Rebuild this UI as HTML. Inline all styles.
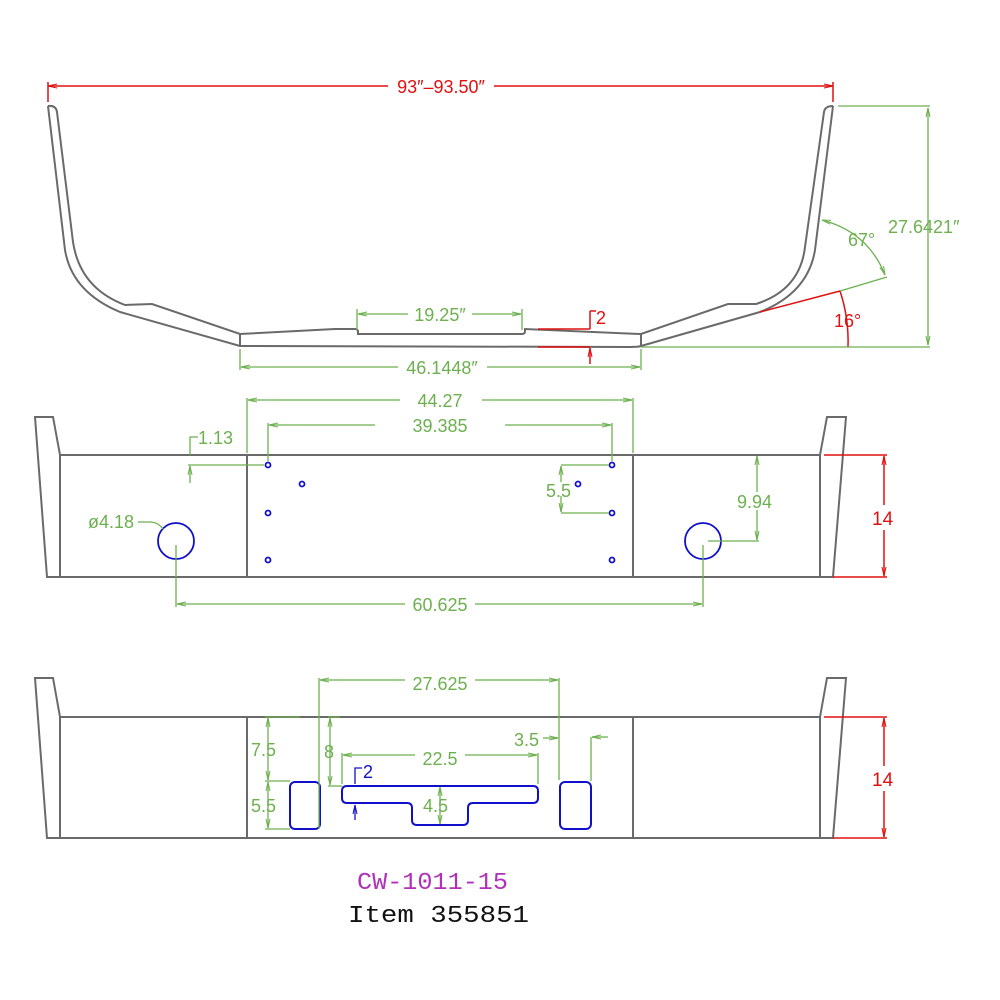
<!DOCTYPE html>
<html><head><meta charset="utf-8"><style>
html,body{margin:0;padding:0;background:#fff;}
svg{display:block;}
text{font-family:"Liberation Sans",sans-serif;}
</style></head><body>
<svg width="1000" height="1000" viewBox="0 0 1000 1000" xmlns="http://www.w3.org/2000/svg">
<defs>
<marker id="ag" markerWidth="10" markerHeight="6" refX="9" refY="3" orient="auto-start-reverse" markerUnits="userSpaceOnUse"><path d="M0,1 L9,3 L0,5" fill="none" stroke="#6db04f" stroke-width="1"/></marker>
<marker id="ar" markerWidth="10" markerHeight="6" refX="9" refY="3" orient="auto-start-reverse" markerUnits="userSpaceOnUse"><path d="M0,1 L9,3 L0,5" fill="none" stroke="#e01010" stroke-width="1"/></marker>
<marker id="ab" markerWidth="10" markerHeight="6" refX="9" refY="3" orient="auto-start-reverse" markerUnits="userSpaceOnUse"><path d="M0,1 L9,3 L0,5" fill="none" stroke="#1010cc" stroke-width="1"/></marker>
</defs>

<!-- TOP VIEW -->
<g fill="none" stroke="#6a6a6a" stroke-width="2">
<path d="M48,106 L65,250 Q72,292 120,312 L240,346 L630,347 Q638,347 641,346 L760,312 Q808,293 815,250 L833,106"/>
<path d="M48,106 Q56,105 57,112 L73,242 Q80,288 125,305 L152,304 L240,334 L335,329 L355,329 Q358,329 358,332 L358,334 L522,334 Q525,334 525,331 L525,329 L640,334 L641,334 L728,304 L756,304 Q800,290 805,247 L824,112 Q825,106 833,106"/>
<line x1="240" y1="334" x2="240" y2="347"/>
<line x1="641" y1="334" x2="641" y2="347"/>
</g>
<g stroke="#e01010" stroke-width="1.5" fill="none">
<line x1="48" y1="82" x2="48" y2="102"/>
<line x1="833" y1="82" x2="833" y2="102"/>
<line x1="48" y1="86" x2="388" y2="86" marker-start="url(#ar)"/>
<line x1="494" y1="86" x2="833" y2="86" marker-end="url(#ar)"/>
<line x1="538" y1="329" x2="590" y2="329"/>
<line x1="590" y1="329" x2="590" y2="311"/>
<line x1="590" y1="311" x2="596" y2="311"/>
<line x1="538" y1="347" x2="590" y2="347"/>
<line x1="590" y1="364" x2="590" y2="348" marker-end="url(#ar)"/>
<line x1="760" y1="312" x2="840" y2="291"/>
<path d="M840,291 Q849,318 848,347"/>
</g>
<text x="441" y="93" fill="#e01010" font-size="18" text-anchor="middle">93″–93.50″</text>
<text x="596" y="324" fill="#e01010" font-size="18">2</text>
<text x="834" y="327" fill="#e01010" font-size="18">16°</text>
<g stroke="#6db04f" stroke-width="1.3" fill="none">
<line x1="840" y1="291" x2="887" y2="277"/>
<path d="M822,220 Q868,232 885,275" marker-start="url(#ag)" marker-end="url(#ag)"/>
<line x1="838" y1="106" x2="930" y2="106"/>
<line x1="641" y1="347" x2="930" y2="347"/>
<line x1="928" y1="108" x2="928" y2="345" marker-start="url(#ag)" marker-end="url(#ag)"/>
<line x1="357" y1="309" x2="357" y2="330"/>
<line x1="522" y1="309" x2="522" y2="330"/>
<line x1="358" y1="314" x2="408" y2="314" marker-start="url(#ag)"/>
<line x1="472" y1="314" x2="521" y2="314" marker-end="url(#ag)"/>
<line x1="240" y1="349" x2="240" y2="370"/>
<line x1="641" y1="349" x2="641" y2="370"/>
<line x1="241" y1="367" x2="398" y2="367" marker-start="url(#ag)"/>
<line x1="487" y1="367" x2="640" y2="367" marker-end="url(#ag)"/>
</g>
<g fill="#6db04f" font-size="18">
<text x="440" y="321" text-anchor="middle">19.25″</text>
<text x="442" y="374" text-anchor="middle">46.1448″</text>
<text x="848" y="246">67°</text>
<text x="888" y="233">27.6421″</text>
</g>

<!-- MIDDLE VIEW -->
<g fill="none" stroke="#6a6a6a" stroke-width="2">
<polygon points="35,417 53,417 60,455 60,577 47,577"/>
<rect x="60" y="455" width="760" height="122"/>
<line x1="247" y1="455" x2="247" y2="577"/>
<line x1="633" y1="455" x2="633" y2="577"/>
<polygon points="820,455 827,417 846,417 833,577 820,577"/>
</g>
<g fill="none" stroke="#1010cc" stroke-width="1.8">
<circle cx="268" cy="465" r="2.5"/><circle cx="268" cy="513" r="2.5"/><circle cx="268" cy="560" r="2.5"/><circle cx="302" cy="484" r="2.5"/>
<circle cx="612" cy="465" r="2.5"/><circle cx="612" cy="513" r="2.5"/><circle cx="612" cy="560" r="2.5"/><circle cx="578" cy="484" r="2.5"/>
<circle cx="176" cy="541" r="18"/><circle cx="703" cy="541" r="18"/>
</g>
<g stroke="#6db04f" stroke-width="1.3" fill="none">
<line x1="247" y1="398" x2="247" y2="453"/>
<line x1="633" y1="398" x2="633" y2="453"/>
<line x1="248" y1="400" x2="400" y2="400" marker-start="url(#ag)"/>
<line x1="482" y1="400" x2="632" y2="400" marker-end="url(#ag)"/>
<line x1="268" y1="423" x2="268" y2="461"/>
<line x1="612" y1="423" x2="612" y2="461"/>
<line x1="269" y1="425" x2="375" y2="425" marker-start="url(#ag)"/>
<line x1="505" y1="425" x2="611" y2="425" marker-end="url(#ag)"/>
<line x1="188" y1="465" x2="264" y2="465"/>
<path d="M198,437 L190,437 L190,455"/>
<line x1="190" y1="483" x2="190" y2="466" marker-end="url(#ag)"/>
<path d="M138,522 L150,522 Q158,522 163,529"/>
<line x1="176" y1="545" x2="176" y2="607"/>
<line x1="703" y1="545" x2="703" y2="607"/>
<line x1="177" y1="604" x2="405" y2="604" marker-start="url(#ag)"/>
<line x1="475" y1="604" x2="702" y2="604" marker-end="url(#ag)"/>
<line x1="561" y1="465" x2="609" y2="465"/>
<line x1="561" y1="513" x2="609" y2="513"/>
<line x1="561" y1="466" x2="561" y2="482" marker-start="url(#ag)"/>
<line x1="561" y1="496" x2="561" y2="512" marker-end="url(#ag)"/>
<line x1="708" y1="541" x2="759" y2="541"/>
<line x1="757" y1="456" x2="757" y2="492" marker-start="url(#ag)"/>
<line x1="757" y1="510" x2="757" y2="540" marker-end="url(#ag)"/>
</g>
<g fill="#6db04f" font-size="18">
<text x="440" y="407" text-anchor="middle">44.27</text>
<text x="440" y="432" text-anchor="middle">39.385</text>
<text x="198" y="444">1.13</text>
<text x="88" y="528">ø4.18</text>
<text x="440" y="611" text-anchor="middle">60.625</text>
<text x="546" y="497">5.5</text>
<text x="737" y="508">9.94</text>
</g>
<g stroke="#e01010" stroke-width="1.5" fill="none">
<line x1="824" y1="455" x2="887" y2="455"/>
<line x1="833" y1="577" x2="887" y2="577"/>
<line x1="884" y1="456" x2="884" y2="505" marker-start="url(#ar)"/>
<line x1="884" y1="530" x2="884" y2="576" marker-end="url(#ar)"/>
</g>
<text x="872" y="525" fill="#e01010" font-size="19">14</text>

<!-- BOTTOM VIEW -->
<g fill="none" stroke="#6a6a6a" stroke-width="2">
<polygon points="35,678 53,678 60,717 60,838 47,838"/>
<rect x="60" y="717" width="760" height="121"/>
<line x1="247" y1="717" x2="247" y2="838"/>
<line x1="633" y1="717" x2="633" y2="838"/>
<polygon points="820,717 827,678 846,678 833,838 820,838"/>
</g>
<g fill="none" stroke="#1010cc" stroke-width="2">
<rect x="290" y="782" width="30" height="47" rx="5"/>
<rect x="560" y="782" width="31" height="47" rx="5"/>
<path d="M347,786 L533,786 Q538,786 538,791 L538,798 Q538,803 533,803 L473,803 Q468,803 468,808 L468,820 Q468,825 463,825 L417,825 Q412,825 412,820 L412,808 Q412,803 407,803 L347,803 Q342,803 342,798 L342,791 Q342,786 347,786 Z"/>
</g>
<g stroke="#1010cc" stroke-width="1.3" fill="none">
<path d="M362,768 L355,768 L355,784"/>
<line x1="355" y1="820" x2="355" y2="805" marker-end="url(#ab)"/>
</g>
<text x="363" y="778" fill="#1010cc" font-size="18">2</text>
<g stroke="#6db04f" stroke-width="1.3" fill="none">
<line x1="319" y1="678" x2="319" y2="829"/>
<line x1="559" y1="678" x2="559" y2="780"/>
<line x1="320" y1="680" x2="405" y2="680" marker-start="url(#ag)"/>
<line x1="475" y1="680" x2="558" y2="680" marker-end="url(#ag)"/>
<line x1="265" y1="717" x2="300" y2="717"/>
<line x1="265" y1="781" x2="290" y2="781"/>
<line x1="265" y1="829" x2="290" y2="829"/>
<line x1="268" y1="718" x2="268" y2="780" marker-start="url(#ag)" marker-end="url(#ag)"/>
<line x1="268" y1="782" x2="268" y2="828" marker-start="url(#ag)" marker-end="url(#ag)"/>
<line x1="328" y1="717" x2="340" y2="717"/>
<line x1="328" y1="786" x2="342" y2="786"/>
<line x1="330" y1="718" x2="330" y2="785" marker-start="url(#ag)" marker-end="url(#ag)"/>
<line x1="342" y1="753" x2="342" y2="784"/>
<line x1="538" y1="753" x2="538" y2="784"/>
<line x1="343" y1="755" x2="415" y2="755" marker-start="url(#ag)"/>
<line x1="465" y1="755" x2="537" y2="755" marker-end="url(#ag)"/>
<line x1="440" y1="787" x2="440" y2="824" marker-start="url(#ag)" marker-end="url(#ag)"/>
<line x1="543" y1="738" x2="558" y2="738" marker-end="url(#ag)"/>
<line x1="608" y1="737" x2="592" y2="737" marker-end="url(#ag)"/>
<line x1="591" y1="737" x2="591" y2="781"/>
</g>
<g fill="#6db04f" font-size="18">
<text x="440" y="690" text-anchor="middle">27.625</text>
<text x="251" y="756">7.5</text>
<text x="251" y="812">5.5</text>
<text x="324" y="758">8</text>
<text x="440" y="765" text-anchor="middle">22.5</text>
<text x="423" y="812">4.5</text>
<text x="514" y="746">3.5</text>
</g>
<g stroke="#e01010" stroke-width="1.5" fill="none">
<line x1="824" y1="717" x2="887" y2="717"/>
<line x1="833" y1="838" x2="887" y2="838"/>
<line x1="884" y1="718" x2="884" y2="766" marker-start="url(#ar)"/>
<line x1="884" y1="791" x2="884" y2="837" marker-end="url(#ar)"/>
</g>
<text x="872" y="786" fill="#e01010" font-size="19">14</text>

<text x="357" y="889" fill="#b030b8" font-size="24" textLength="151" lengthAdjust="spacingAndGlyphs" style="font-family:'Liberation Mono',monospace">CW-1011-15</text>
<text x="348" y="922" fill="#111" font-size="24" textLength="181" lengthAdjust="spacingAndGlyphs" style="font-family:'Liberation Mono',monospace">Item 355851</text>
</svg>
</body></html>
